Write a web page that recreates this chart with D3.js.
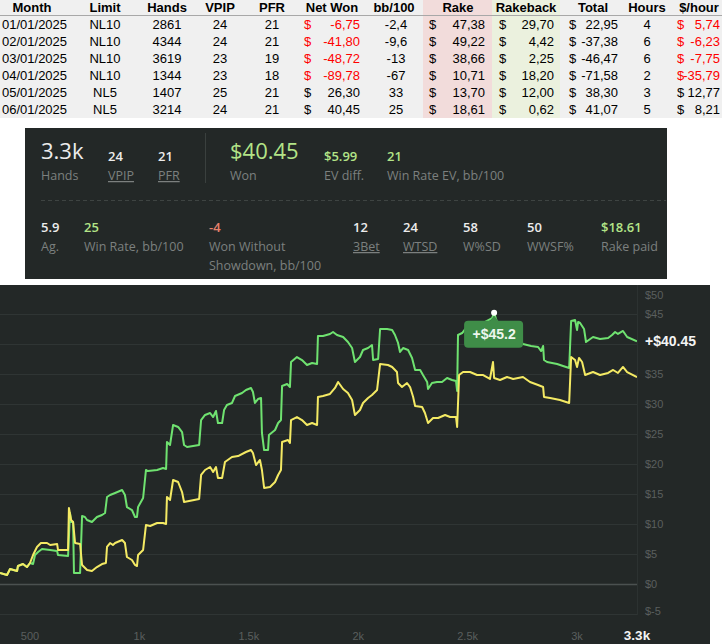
<!DOCTYPE html>
<html><head><meta charset="utf-8">
<script src="https://cdn.jsdelivr.net/npm/d3@7"></script>
<style>
html,body{margin:0;padding:0;background:#fff;}
svg{display:block;}
</style></head><body>
<svg id="c" width="722" height="644"></svg>
<script>
// ---------- Table data ----------
const tableHeaders = ["Month","Limit","Hands","VPIP","PFR","Net Won","bb/100","Rake","Rakeback","Total","Hours","$/hour"];
const months = ["01/01/2025","02/01/2025","03/01/2025","04/01/2025","05/01/2025","06/01/2025"];
const limits = ["NL10","NL10","NL10","NL10","NL5","NL5"];
const handsPlayed = [2861,4344,3619,1344,1407,3214];
const vpipVals = [24,24,23,23,25,24];
const pfrVals = [21,21,19,18,21,21];
const netWon = [-6.75,-41.80,-48.72,-89.78,26.30,40.45];
const bb100 = [-2.4,-9.6,-13,-67,33,25];
const rake = [47.38,49.22,38.66,10.71,13.70,18.61];
const rakeback = [29.70,4.42,2.25,18.20,12.00,0.62];
const totals = [22.95,-37.38,-46.47,-71.58,38.30,41.07];
const hours = [4,6,6,2,3,5];
const perHour = [5.74,-6.23,-7.75,-35.79,12.77,8.21];

// ---------- Stats panel data ----------
const topStatValues = ["3.3k","24","21","$40.45","$5.99","21"];
const topStatLabels = ["Hands","VPIP","PFR","Won","EV diff.","Win Rate EV, bb/100"];
const bottomStatValues = ["5.9","25","-4","12","24","58","50","$18.61"];
const bottomStatLabels = ["Ag.","Win Rate, bb/100","Won Without\nShowdown, bb/100","3Bet","WTSD","W%SD","WWSF%","Rake paid"];

// ---------- Graph data ----------
const wonHands = [363,395,409,441,445,468,486,500,514,523,537,555,592,624,628,674,683,688,697,701,729,738,751,761,783,806,829,843,852,866,889,921,934,943,966,980,989,994,1017,1030,1039,1081,1108,1122,1126,1140,1154,1177,1195,1204,1218,1273,1282,1300,1323,1337,1350,1359,1378,1387,1400,1423,1437,1469,1487,1510,1519,1528,1542,1556,1560,1570,1588,1592,1620,1634,1647,1652,1675,1688,1693,1720,1743,1766,1789,1812,1816,1839,1871,1885,1903,1931,1953,1972,1985,2008,2022,2045,2063,2068,2091,2100,2132,2155,2168,2182,2191,2205,2228,2246,2260,2283,2296,2315,2319,2337,2360,2383,2406,2429,2447,2452,2456,2475,2493,2534,2580,2612,2621,2634,2671,2717,2753,2790,2822,2836,2845,2849,2863,2909,2936,2964,2973,2991,3000,3005,3014,3032,3041,3073,3105,3142,3160,3174,3187,3210,3229,3274];
const wonValues = [1.83,1.5,2.5,2.17,3,3.33,2.83,3.5,3.33,4.83,5.33,5.83,5.67,5.5,4.83,4.67,11.83,10.33,10.33,1.83,1.83,11.33,11.17,10.67,10.33,11.17,11.5,11.83,14.5,14.83,15.17,15.67,14.83,12.83,12.33,11.17,11.17,12.83,14.33,19,18.83,19,19.33,19.17,23.67,23.17,26.5,26.17,25.33,23.17,22.83,23.17,27.33,28.17,28.5,27.83,28.83,26.83,26.83,29,29.83,30.17,31.33,31.83,32.33,32.67,32,30.17,30.83,31,25.17,22.33,22.33,24.83,25.67,26.83,27.33,33,33.33,32.83,37,37.83,37.33,36.5,36.83,36.67,41.33,41.33,41.67,42,41.5,41.17,40.33,39.33,37,37.83,39,39.33,39.83,37.33,37.5,42.5,42.5,42.33,41.5,40.17,38.67,39.33,39,37.67,35.67,35.67,34.83,33.67,32.5,33.5,33.67,33.67,34.33,34,33.83,32.17,41.5,41.83,42.67,43,43.67,44.33,45.2,43.67,42.33,41.33,40,39.67,39.5,38.83,39.67,37.33,37,36.67,36.33,36,43.83,44,42.33,43.67,43.5,42.5,40.33,41.17,40.83,41,41.5,42,41.67,42.17,41.17,40.45];
const evHands = [363,395,409,441,445,468,486,500,514,532,550,578,592,624,628,674,678,688,697,706,729,738,761,783,806,829,847,852,866,879,889,921,934,943,966,980,989,994,1017,1030,1049,1081,1108,1122,1126,1140,1154,1177,1195,1204,1273,1282,1300,1323,1337,1350,1359,1378,1391,1423,1451,1487,1510,1519,1533,1551,1560,1570,1597,1620,1634,1647,1652,1679,1688,1693,1720,1743,1766,1789,1812,1816,1839,1871,1894,1908,1931,1953,1972,1985,2008,2022,2045,2063,2086,2100,2136,2155,2177,2182,2200,2223,2237,2251,2260,2292,2305,2319,2342,2365,2397,2420,2447,2452,2461,2479,2511,2543,2571,2602,2616,2621,2648,2680,2708,2753,2785,2822,2845,2849,2877,2922,2964,2973,2991,3000,3009,3023,3037,3073,3105,3142,3165,3187,3210,3229,3274];
const evValues = [1.83,1.5,2.5,2.17,3,3.33,2.83,3.5,4.83,6.17,6.83,6.83,6.5,6.67,5.67,5.67,12.67,10.67,10.33,6.83,6.67,3.17,2.33,2.17,2.83,3.33,3.5,6.17,6.83,6.5,6.83,7.33,6.83,4.5,4,3.17,3,4.83,5.67,9.83,9.67,10.17,10.17,10,14.5,14,17.33,17,15.33,13.67,14.17,18.17,19,19.5,18.67,19.5,17.67,17.67,20.33,21.17,21.33,22,22.33,21.83,19.83,20.67,19,16,16.17,17,18.17,19,23.67,24,23.5,27.33,27.83,27.33,26.5,26.83,26.5,31.17,31.33,31.67,32.67,33.67,32.5,31.83,30.67,28.17,29,30.17,31,31.5,32.33,36.67,36.5,36.17,35.33,33.5,32.83,33.5,32.83,31.17,29.67,29.5,28.5,26.83,27.67,27.67,28.17,27.83,27.83,26.17,34.83,35.33,35.33,34.83,34.83,34.17,37,34.33,34,34.5,34.17,34.5,33.67,33.17,32.83,31.17,31,30.67,30.17,37.83,37.33,36.17,37.67,37,34.83,35.33,34.83,35.17,35.67,35.17,36.17,35.33,34.46];
const xTicks = [500,1000,1500,2000,2500,3000];
const yTicks = [-5,0,5,10,15,20,25,30,35,40,45,50];
const totalHandsLabel = "3.3k";

const svg = d3.select("#c");
const locale = d3.formatLocale({decimal:",",thousands:".",grouping:[3],currency:["$",""],minus:"-"});
const f2 = locale.format(".2f");
const TF = "'Liberation Sans', Arial, sans-serif";

// ================= TABLE =================
const T = svg.append("g").attr("font-family", TF);
T.append("rect").attr("x",0).attr("y",0).attr("width",722).attr("height",118).attr("fill","#f0f0f0");
T.append("rect").attr("x",423).attr("y",0).attr("width",69).attr("height",118).attr("fill","#f2dcdb");
T.append("rect").attr("x",492).attr("y",0).attr("width",68).attr("height",118).attr("fill","#ebf1de");
T.append("line").attr("x1",0).attr("x2",722).attr("y1",15.5).attr("y2",15.5).attr("stroke","#a8a8a8");

const headerX = [32,105,167,220,272,332,394,458,526,593,647,699];
T.selectAll("text.h").data(tableHeaders).join("text").attr("class","h")
  .attr("x",(d,i)=>headerX[i]).attr("y",12).attr("text-anchor","middle")
  .attr("font-size",13).attr("font-weight","bold").attr("fill","#000").text(d=>d);

const rowY = d3.scaleLinear().domain([0,5]).range([29.3,113.5]);
const rows = d3.range(months.length);
function textCol(vals, x, anchor, colorFn){
  T.append("g").selectAll("text").data(rows).join("text")
    .attr("x",x).attr("y",i=>rowY(i)).attr("text-anchor",anchor)
    .attr("font-size",13).attr("fill",i=>colorFn?colorFn(i):"#000")
    .text(i=>vals(i));
}
const red = "#ff0000";
textCol(i=>months[i],2,"start");
textCol(i=>limits[i],105,"middle");
textCol(i=>handsPlayed[i],167,"middle");
textCol(i=>vpipVals[i],220,"middle");
textCol(i=>pfrVals[i],272,"middle");
const nwCol = i=> netWon[i]<0?red:"#000";
textCol(i=>"$",304,"start",nwCol);
textCol(i=>f2(netWon[i]),360,"end",nwCol);
textCol(i=>String(bb100[i]).replace(".",","),396,"middle");
textCol(i=>"$",429,"start");
textCol(i=>f2(rake[i]),485,"end");
textCol(i=>"$",499,"start");
textCol(i=>f2(rakeback[i]),554,"end");
textCol(i=>"$",569,"start");
textCol(i=>f2(totals[i]),618,"end");
textCol(i=>hours[i],647,"middle");
textCol(i=>"$",677,"start",nwCol);
textCol(i=>f2(perHour[i]),720,"end",nwCol);

// ================= STATS PANEL =================
const SF = "'Open Sans', 'Noto Sans', sans-serif";
const S = svg.append("g").attr("font-family", SF);
S.append("rect").attr("x",25).attr("y",128).attr("width",642).attr("height",151).attr("fill","#232827");
S.append("line").attr("x1",205.5).attr("x2",205.5).attr("y1",133).attr("y2",183).attr("stroke","#3a403e");
S.append("line").attr("x1",41).attr("x2",666).attr("y1",200.5).attr("y2",200.5).attr("stroke","#3e4442").attr("stroke-dasharray","4,3");

const white = "#ececec", green = "#b3e487", salmon = "#e6806c", gray = "#7c807f";
const topX = [41,108,158,230,324,387];
const topColor = [white,white,white,green,green,green];
const topBig = [true,false,false,true,false,false];
const topUnder = [false,true,true,false,false,false];
topStatValues.forEach((v,i)=>{
  S.append("text").attr("x",topX[i]).attr("y",topBig[i]?159:161)
    .attr("font-size",topBig[i]?22:13).attr("font-weight",topBig[i]?400:600)
    .attr("fill",topColor[i]).text(v);
  S.append("text").attr("x",topX[i]).attr("y",180).attr("font-size",12.5)
    .attr("fill",gray).attr("text-decoration",topUnder[i]?"underline":null).text(topStatLabels[i]);
});
const botX = [41,84,209,353,403,463,527,601];
const botColor = [white,green,salmon,white,white,white,white,green];
const botUnder = [false,false,false,true,true,false,false,false];
bottomStatValues.forEach((v,i)=>{
  S.append("text").attr("x",botX[i]).attr("y",232).attr("font-size",13).attr("font-weight",600)
    .attr("fill",botColor[i]).text(v);
  bottomStatLabels[i].split("\n").forEach((ln,j)=>{
    S.append("text").attr("x",botX[i]).attr("y",251+j*18.5).attr("font-size",12.5)
      .attr("fill",gray).attr("text-decoration",botUnder[i]?"underline":null).text(ln);
  });
});

// ================= GRAPH =================
const G = svg.append("g").attr("font-family", TF);
G.append("rect").attr("x",0).attr("y",285).attr("width",710).attr("height",359).attr("fill","#232827");
const plotR = 637, plotT = 284, plotB = 614;
const x = d3.scaleLinear().domain([d3.min(wonHands), d3.max(wonHands)]).range([0, plotR]);
const y = d3.scaleLinear().domain([-5, 50]).range([plotB, plotT]);

G.append("g").selectAll("line").data(yTicks.filter(t=>t<50)).join("line")
  .attr("x1",0).attr("x2",plotR).attr("y1",d=>Math.round(y(d))+0.5).attr("y2",d=>Math.round(y(d))+0.5)
  .attr("stroke",d=>d===0?"#4b5150":"#2f3534").attr("stroke-width",d=>d===0?1.5:1);
G.append("line").attr("x1",plotR+0.5).attr("x2",plotR+0.5).attr("y1",285).attr("y2",plotB+1).attr("stroke","#2c3231");

const clip = svg.append("defs").append("clipPath").attr("id","pc");
clip.append("rect").attr("x",0).attr("y",285).attr("width",plotR).attr("height",plotB-285+2);

const wonData = wonHands.map((h,i)=>[h,wonValues[i]]);
const evData = evHands.map((h,i)=>[h,evValues[i]]);
const line = d3.line().x(d=>x(d[0])).y(d=>y(d[1])).curve(d3.curveLinear);
const lines = G.append("g").attr("clip-path","url(#pc)");
lines.append("path").attr("d",line(wonData)).attr("fill","none").attr("stroke","#6fe270").attr("stroke-width",2).attr("stroke-linejoin","round");
lines.append("path").attr("d",line(evData)).attr("fill","none").attr("stroke","#f4ea64").attr("stroke-width",2).attr("stroke-linejoin","round");

// end label
const lastWon = wonValues[wonValues.length-1];
const endY = y(lastWon);
const ffix = d3.format(".2f");
G.append("text").attr("x",645).attr("y",endY).attr("dy","0.35em").attr("font-size",14)
  .attr("font-weight","bold").attr("fill","#f4f4f4").text("+$"+ffix(lastWon));

// y labels
G.append("g").selectAll("text").data(yTicks.filter(t=>Math.abs(y(t)-endY)>10)).join("text")
  .attr("x",645).attr("y",d=>Math.min(Math.max(y(d),295),611)).attr("dy","0.35em")
  .attr("font-size",11).attr("fill","#5a5f5e").text(d=>"$"+d);

// x labels
G.append("g").selectAll("text").data(xTicks).join("text")
  .attr("x",d=>x(d)).attr("y",640).attr("text-anchor","middle").attr("font-size",11).attr("fill","#5a5f5e")
  .text(d=>d>=1000?(d/1000)+"k":String(d));
G.append("text").attr("x",x(d3.max(wonHands))).attr("y",640).attr("text-anchor","middle")
  .attr("font-size",13.5).attr("font-weight","bold").attr("fill","#f4f4f4").text(totalHandsLabel);

// tooltip at the peak
const peakI = d3.maxIndex(wonValues);
const px = x(wonHands[peakI]), py = y(wonValues[peakI]);
const tt = G.append("g").attr("transform",`translate(${px},${py})`);
tt.append("path").attr("d","M-5,9 L0,3 L5,9 Z").attr("fill","#3f8d48");
tt.append("rect").attr("x",-30).attr("y",8).attr("width",59).attr("height",27).attr("rx",4).attr("fill","#3f8d48");
tt.append("circle").attr("r",3).attr("fill","#fff");
tt.append("text").attr("x",0).attr("y",21.5).attr("dy","0.35em").attr("text-anchor","middle")
  .attr("font-size",14).attr("font-weight","bold").attr("fill","#eef7ee").text("+$"+wonValues[peakI]);
</script>
</body></html>
